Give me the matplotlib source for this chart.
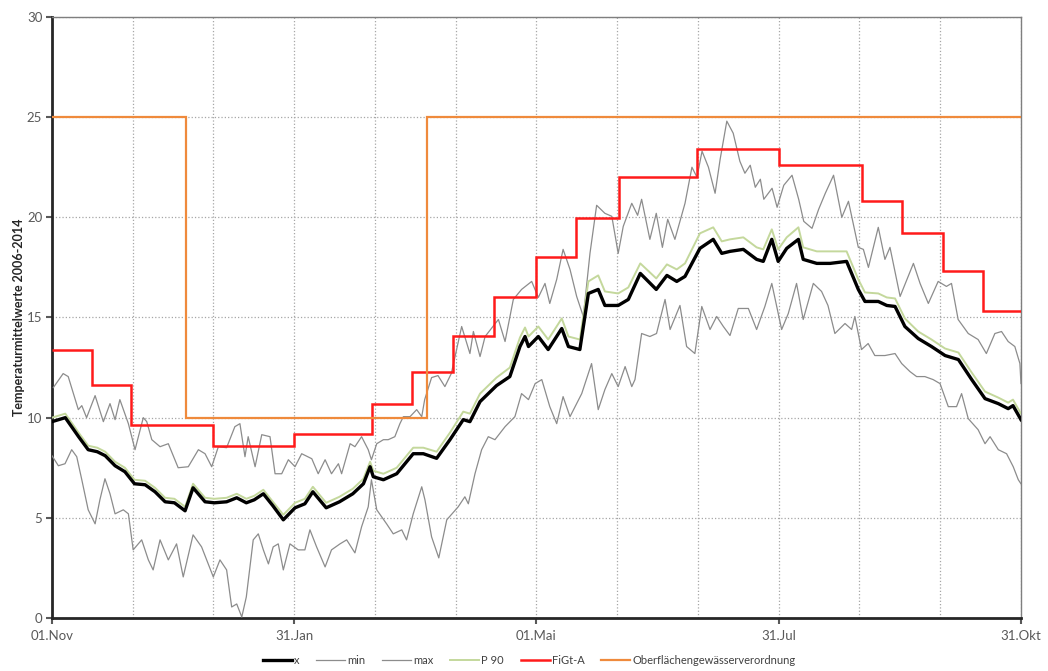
import matplotlib
matplotlib.use("Agg")
import matplotlib.pyplot as plt

plt.rcParams['font.family'] = ['Lato', 'DejaVu Sans']

# days since 01.Nov
x_days = [0, 5, 10, 13.6, 17, 20, 23.7, 27.4, 31, 35, 38.7, 42.5, 46, 50, 53, 57.5, 61, 65.6, 69.4, 73,
          76, 79.4, 83, 86.9, 91.3, 95, 98, 103, 108, 113, 117, 119.5, 120.7, 124.5, 129.5, 135.7, 139.5,
          144.5, 149.5, 154.5, 157, 160.8, 167, 172, 175.8, 177.7, 179, 182.7, 186.4, 191.5, 194, 198.3,
          201.5, 205.2, 207.7, 212.7, 216.5, 221, 227, 231, 234.7, 237.8, 243.4, 248.4, 251.6, 254.7,
          259.7, 264.7, 267.2, 270.4, 272.8, 276, 280.4, 282.2, 287.3, 292.3, 298.5, 302.9, 305.4, 310.4,
          313.6, 316.7, 320.4, 325.4, 330.4, 335.5, 340.5, 345.5, 350.5, 355.5, 359.2, 361, 364]
x_mean = [9.8, 10.0, 9.05, 8.4, 8.3, 8.1, 7.6, 7.3, 6.7, 6.65, 6.3, 5.8, 5.75, 5.35, 6.5, 5.8, 5.75, 5.8, 6.0, 5.75,
          5.9, 6.2, 5.6, 4.9, 5.5, 5.7, 6.3, 5.5, 5.8, 6.2, 6.7, 7.55, 7.05, 6.9, 7.2, 8.2, 8.2,
          7.97, 8.9, 9.9, 9.8, 10.8, 11.6, 12.05, 13.55, 14.05, 13.55, 14.05, 13.4, 14.45, 13.55, 13.4,
          16.2, 16.4, 15.6, 15.6, 15.9, 17.2, 16.4, 17.1, 16.8, 17.05, 18.45, 18.9, 18.2, 18.3,
          18.4, 17.9, 17.8, 18.9, 17.8, 18.45, 18.9, 17.9, 17.7, 17.7, 17.8, 16.4, 15.8, 15.8,
          15.6, 15.55, 14.55, 13.95, 13.55, 13.1, 12.9, 11.9, 10.95, 10.7, 10.45, 10.6, 9.9]
p90 = [10.0, 10.2, 9.25, 8.6, 8.5, 8.3, 7.8, 7.5, 6.9, 6.85, 6.5, 6.0, 5.95, 5.55, 6.7, 6.0, 5.95, 6.0, 6.2, 5.95,
       6.1, 6.4, 5.8, 5.15, 5.75, 5.95, 6.55, 5.75, 6.05, 6.45, 6.95, 7.8, 7.35, 7.2, 7.5, 8.5, 8.5,
       8.3, 9.25, 10.3, 10.2, 11.2, 12.0, 12.5, 14.0, 14.5, 14.05, 14.55, 13.9, 14.95, 14.05, 13.9,
       16.8, 17.1, 16.3, 16.2, 16.5, 17.7, 16.95, 17.65, 17.4, 17.7, 19.2, 19.5, 18.8, 18.9,
       19.0, 18.5, 18.4, 19.4, 18.4, 19.0, 19.5, 18.5, 18.3, 18.3, 18.3, 16.9, 16.25, 16.2,
       16.0, 15.95, 14.95, 14.3, 13.9, 13.45, 13.25, 12.25, 11.3, 11.0, 10.75, 10.9, 10.2]

max_days = [0.5, 4.2, 6.1, 9.9, 11.2, 13, 16.2, 19.3, 21.8, 23.7, 25.5, 28.7, 31.2, 34.3, 35.6, 37.5, 40.6,
            43.7, 47.4, 51.2, 55, 57.5, 60, 62.5, 65.6, 68.7, 70.6, 72.5, 73.7, 76.3, 78.8, 81.9, 83.8,
            86.3, 88.8, 91.3, 93.8, 97.6, 100, 102.6, 105, 107.6, 108.8, 112, 113.8, 116.3, 118.8, 120,
            122, 124.5, 126.3, 128.8, 130.7, 132, 134.5, 137, 138.9, 140, 142.6, 145, 147.6, 150, 153.9,
            157, 158.3, 160.8, 162.7, 167.7, 170.2, 173.3, 176.4, 180.2, 182.7, 185.2, 187, 189.6, 192,
            194.6, 197.1, 199.6, 202.1, 204.6, 207.7, 210.3, 212.7, 214.6, 217.8, 220, 221.5, 224.6,
            227, 229.3, 231.3, 234, 237.8, 240.4, 242.3, 244.2, 246.6, 249.1, 251, 253.5, 255.9, 258.4,
            260.3, 262.3, 264.2, 266.1, 267.4, 270.5, 272.4, 274.9, 278, 280.5, 282.4, 285.5, 288,
            290.5, 293.6, 296.7, 299.2, 302.9, 304.8, 306.7, 310.4, 312.9, 314.8, 318.6, 323.6, 326.1,
            329.2, 332.9, 336, 337.9, 340.4, 344.2, 347.9, 351, 354.2, 356.7, 359.2, 361.7, 363.6, 364]
max_val = [11.5, 12.2, 12.05, 10.4, 10.6, 10.0, 11.1, 9.8, 10.7, 9.9, 10.9, 9.7, 8.4, 10.0, 9.8, 8.9, 8.55,
           8.7, 7.5, 7.55, 8.4, 8.2, 7.55, 8.55, 8.5, 9.55, 9.7, 8.05, 9.05, 7.55, 9.15, 9.05, 7.2,
           7.2, 7.9, 7.55, 8.2, 7.95, 7.2, 7.9, 7.2, 7.7, 7.2, 8.7, 8.55, 9.05, 8.4, 7.9,
           8.7, 8.9, 8.9, 9.05, 9.7, 10.05, 10.05, 10.4, 10.05, 10.9, 12.0, 12.1, 11.55, 12.2, 14.55,
           13.2, 14.3, 13.05, 14.05, 14.9, 13.8, 15.9, 16.4, 16.8, 16.0, 16.7, 15.7, 16.9, 18.4,
           17.4, 16.05, 15.05, 18.2, 20.6, 20.2, 20.05, 18.2, 19.55, 20.7, 20.1, 20.9, 18.9,
           20.2, 18.5, 19.9, 18.9, 20.7, 22.5, 22.0, 23.3, 22.5, 21.2, 22.9, 24.8, 24.2, 22.8,
           22.2, 22.6, 21.5, 21.9, 20.9, 21.45, 20.5, 21.6, 22.1, 20.9, 19.8, 19.45, 20.4,
           21.2, 22.1, 20.0, 20.8, 18.5, 18.4, 17.5, 19.5, 17.9, 18.5, 16.05, 17.7, 16.7,
           15.7, 16.8, 16.55, 16.7, 14.9, 14.2, 13.9, 13.2, 14.2, 14.3, 13.8, 13.55, 12.7, 11.7]

min_days = [0, 2.4, 4.9, 7.4, 9.3, 11.2, 13.6, 16.2, 18, 19.9, 21.8, 23.7, 26.8, 28.7, 30.5, 33.7, 36.2,
            38, 40.6, 43.7, 46.8, 49.3, 53, 56.2, 60.6, 63.1, 65.6, 67.5, 69.4, 71.3, 73, 75.6, 77.5,
            79.4, 81.3, 83.1, 85, 86.9, 89.4, 92.5, 95, 96.9, 99.4, 102.6, 105, 108.2, 110.7, 113.8,
            116.3, 118.8, 120, 122, 125.7, 128.2, 131.4, 133.2, 135.7, 138.9, 140.1, 142.6, 145.3,
            148.3, 152.6, 155.1, 156.4, 158.9, 161.4, 163.9, 166.4, 170.2, 173.9, 176.4, 179, 181.5,
            184, 187, 189.6, 192, 194.6, 196.5, 199, 202.7, 205.2, 207.7, 210.3, 212.7, 215.3, 217.8,
            219, 221.5, 224.6, 227.1, 230.3, 232.2, 235.9, 238.4, 241.5, 244.1, 247.2, 249.7, 252.2,
            254.7, 257.8, 261.6, 264.7, 267.8, 270.4, 274.1, 276.6, 279.7, 282.2, 286, 289.1, 291.5,
            294.1, 297.9, 300.4, 301.6, 304.1, 306.6, 309.1, 312.9, 316.7, 319.2, 322.3, 324.8, 327.9,
            331, 333.6, 336.7, 339.8, 341.7, 344.2, 347.9, 350.5, 352.4, 355.5, 358.6, 361.1, 363, 364]
min_val = [8.1, 7.6, 7.7, 8.4, 8.05, 6.9, 5.4, 4.7, 5.9, 6.95, 6.2, 5.2, 5.4, 5.2, 3.4, 3.9, 2.9,
           2.4, 3.9, 2.9, 3.7, 2.05, 4.15, 3.55, 2.05, 2.9, 2.4, 0.55, 0.7, 0.05, 1.05, 3.9, 4.2,
           3.4, 2.7, 3.55, 3.7, 2.4, 3.7, 3.4, 3.4, 4.4, 3.55, 2.55, 3.4, 3.7, 3.9, 3.25,
           4.55, 5.55, 6.9, 5.4, 4.7, 4.2, 4.4, 3.9, 5.2, 6.55, 5.9, 4.05, 3.0,
           4.9, 5.55, 6.05, 5.7, 7.2, 8.4, 9.05, 8.9, 9.55, 10.05, 11.2, 10.9, 11.7,
           11.9, 10.55, 9.7, 11.05, 10.05, 10.55, 11.2, 12.7, 10.4, 11.4, 12.2, 11.55, 12.55, 11.55,
           11.9, 14.2, 14.05, 14.2, 15.9, 14.4, 15.6, 13.55, 13.2, 15.55, 14.4, 15.05, 14.55,
           14.1, 15.45, 15.45, 14.4, 15.55, 16.7, 14.4, 15.2, 16.7, 14.9, 16.7, 16.3, 15.6,
           14.2, 14.7, 14.4, 15.05, 13.4, 13.7, 13.1, 13.1, 13.2, 12.7, 12.3, 12.05, 12.05,
           11.9, 11.7, 10.55, 10.55, 11.2, 9.95, 9.4, 8.7, 9.05, 8.4, 8.2, 7.55, 6.9, 6.7]

figt_edges = [0, 15, 29.7, 60.5, 90.9, 120.2, 135.2, 150.6, 166, 181.8, 196.8, 213, 242.3, 273.1,
              304.3, 319.3, 334.7, 349.7, 364]
figt_val = [13.4, 11.65, 9.65, 8.6, 9.2, 10.7, 12.3, 14.1, 16.0, 18.0, 19.95, 22.0, 23.4, 22.6,
            20.8, 19.2, 17.3, 15.3]

ogewv_edges = [0, 50.3, 140.9, 364]
ogewv_val = [25, 10, 25]

tick_pos = [0, 91, 182, 273, 364]
tick_lab = ['01.Nov', '31.Jan', '01.Mai', '31.Jul', '31.Okt']

fig = plt.figure(figsize=(10.48, 6.71), dpi=100)
ax = fig.add_axes([0.0496, 0.079, 0.9246, 0.8957])

l_min, = ax.plot(min_days, min_val, color='#8c8c8c', lw=0.9, zorder=3)
l_max, = ax.plot(max_days, max_val, color='#8c8c8c', lw=0.9, zorder=3)
l_p90, = ax.plot(x_days, p90, color='#c4d89c', lw=1.4, zorder=4)
l_x, = ax.plot(x_days, x_mean, color='black', lw=2.4, zorder=5)
s_figt = ax.stairs(figt_val, figt_edges, color='#ff1a1a', lw=1.8, baseline=None, zorder=6)
s_og = ax.stairs(ogewv_val, ogewv_edges, color='#ef8a3c', lw=1.6, baseline=None, zorder=6)

ax.set_xlim(0, 364)
ax.set_ylim(0, 30)
ax.set_yticks(range(0, 31, 5))
ax.set_xticks(tick_pos)
ax.set_xticklabels(tick_lab)
ax.set_xticks([k * 91 / 3 for k in range(1, 12)], minor=True)
ax.tick_params(axis='x', which='minor', length=0)
ax.tick_params(axis='both', which='major', labelsize=9.5, colors='#595959', length=4, width=1.5, direction='out')
ax.tick_params(axis='x', which='major', pad=5)
ax.tick_params(axis='y', which='major', pad=3)
ax.grid(True, which='both', axis='x', color='#a6a6a6', ls=':', lw=0.9)
ax.grid(True, which='major', axis='y', color='#a6a6a6', ls=':', lw=0.9)
ax.set_axisbelow(True)

ax.spines['left'].set_linewidth(2)
ax.spines['bottom'].set_linewidth(2)
ax.spines['left'].set_color('#262626')
ax.spines['bottom'].set_color('#262626')
ax.spines['top'].set_color('#7f7f7f')
ax.spines['right'].set_color('#7f7f7f')
ax.spines['top'].set_linewidth(1)
ax.spines['right'].set_linewidth(1)

ax.set_ylabel('Temperaturmittelwerte 2006-2014', fontsize=9, fontweight='bold', color='#262626', labelpad=1)

fig.legend([l_x, l_min, l_max, l_p90, s_figt, s_og],
           ['x', 'min', 'max', 'P 90', 'FiGt-A', 'Oberflächengewässerverordnung'],
           loc='center', bbox_to_anchor=(0.505, 0.016), ncol=6, frameon=False, fontsize=8,
           handlelength=2.6, columnspacing=1.5, handletextpad=0.2, labelcolor='#404040')

fig.savefig('out.png', dpi=100)
